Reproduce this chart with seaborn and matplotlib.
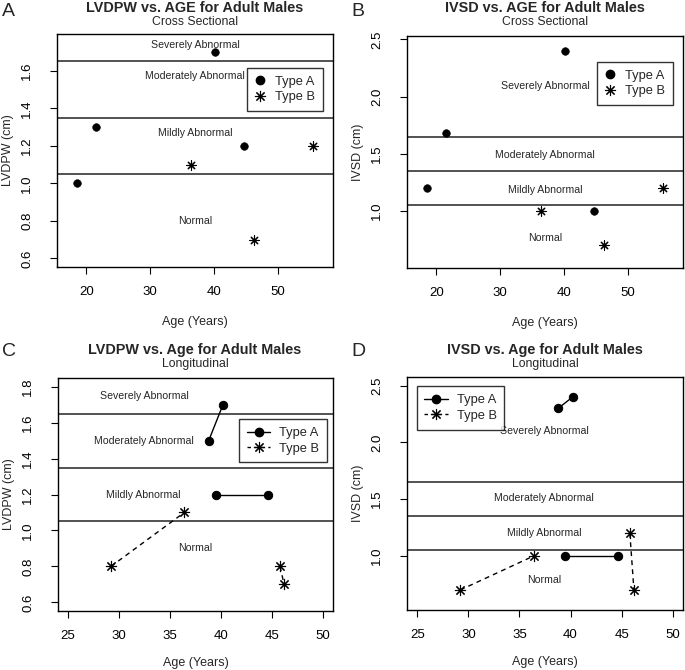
import matplotlib
matplotlib.use("Agg")
import matplotlib.pyplot as plt
from matplotlib.lines import Line2D
import seaborn as sns

sns.set_style("white")
plt.rcParams['font.family'] = ['Liberation Sans', 'DejaVu Sans']

# umbrales entre regiones (cm)
thresholds = [1.05, 1.35, 1.65]
region_names = ["Normal", "Mildly Abnormal", "Moderately Abnormal", "Severely Abnormal"]

# --- A: LVDPW transversal
a_age_A = [18.6, 21.5, 40.2, 44.6]
a_val_A = [1.0, 1.3, 1.7, 1.2]
a_age_B = [36.4, 46.2, 55.5]
a_val_B = [1.1, 0.7, 1.2]

# --- B: IVSD transversal
b_age_A = [18.6, 21.5, 40.2, 44.6]
b_val_A = [1.2, 1.68, 2.4, 1.0]
b_age_B = [36.4, 46.2, 55.5]
b_val_B = [1.0, 0.7, 1.2]

# --- C: LVDPW longitudinal (pares de visitas)
c_age_A = [[38.8, 40.2], [39.5, 44.6]]
c_val_A = [[1.5, 1.7], [1.2, 1.2]]
c_age_B = [[29.2, 36.4], [45.8, 46.2]]
c_val_B = [[0.8, 1.1], [0.8, 0.7]]

# --- D: IVSD longitudinal
d_age_A = [[38.8, 40.2], [39.5, 44.6]]
d_val_A = [[2.3, 2.4], [1.0, 1.0]]
d_age_B = [[29.2, 36.4], [45.8, 46.2]]
d_val_B = [[0.7, 1.0], [1.2, 0.7]]

# posiciones de las etiquetas de región (x, y) en orden Normal..Severely
a_label_pos = [(37, 0.80), (37, 1.27), (37, 1.57), (37, 1.735)]
b_label_pos = [(37, 0.76), (37, 1.18), (37, 1.49), (37, 2.09)]
c_label_pos = [(37.5, 0.90), (32.4, 1.20), (32.4, 1.50), (32.5, 1.75)]
d_label_pos = [(37.4, 0.79), (37.4, 1.20), (37.4, 1.51), (37.4, 2.10)]

W, H = 685, 670
ASTER = (8, 2, 0)
DASH = (0, (3.5, 3))


def px_rect(x0, x1, y0, y1):
    return [x0 / W, 1 - y1 / H, (x1 - x0) / W, (y1 - y0) / H]


def style_axes(ax, xlim, ylim, xticks, yticks, ylabel, h_px, xlab_off=49):
    ax.set_xlim(*xlim)
    ax.set_ylim(*ylim)
    ax.set_xticks(xticks)
    ax.set_yticks(yticks)
    ax.set_xticklabels([f"{t:g}" for t in xticks])
    ax.set_yticklabels([f"{t:.1f}" for t in yticks], rotation=90, va='center')
    ax.tick_params(axis='both', direction='out', length=5, width=0.8,
                   labelsize=9.5, bottom=True, left=True, colors='black')
    ax.tick_params(axis='x', pad=9)
    ax.tick_params(axis='y', pad=12)
    ax.set_xlabel("Age (Years)", fontsize=9)
    ax.set_ylabel(ylabel, fontsize=9)
    ax.xaxis.set_label_coords(0.5, -xlab_off / h_px)
    ax.yaxis.set_label_coords(-0.155, 0.5)
    for s in ax.spines.values():
        s.set_color('black')
        s.set_linewidth(1.0)
    for t in thresholds:
        ax.axhline(t, color='#444444', lw=1.3, zorder=1)


def region_labels(ax, pos):
    for name, (x, y) in zip(region_names, pos):
        ax.text(x, y, name, ha='center', va='center', fontsize=7.6)


def cross_panel(ax, age_A, val_A, age_B, val_B):
    sns.scatterplot(x=age_A, y=val_A, marker='o', color='black', s=30,
                    edgecolor='black', ax=ax, zorder=3)
    sns.scatterplot(x=age_B, y=val_B, marker=ASTER, color='black', s=45,
                    linewidth=0.8, ax=ax, zorder=3)


def long_panel(ax, age_A, val_A, age_B, val_B):
    for xs, ys in zip(age_A, val_A):
        sns.lineplot(x=xs, y=ys, color='black', lw=1.0, marker='o', markersize=6,
                     markeredgecolor='black', ax=ax, zorder=3, sort=False)
    for xs, ys in zip(age_B, val_B):
        sns.lineplot(x=xs, y=ys, color='black', lw=1.0, linestyle=DASH,
                     marker=ASTER, markersize=8, markeredgewidth=0.8,
                     markeredgecolor='black', ax=ax, zorder=3, sort=False)


def add_legend(ax, lines, loc, anchor):
    if lines:
        h = [Line2D([], [], color='black', marker='o', markersize=6, lw=1.0),
             Line2D([], [], color='black', marker=ASTER, markersize=8, lw=1.0,
                    mew=0.8, linestyle=(0, (2.5, 2.5)))]
        hl, htp = 1.8, 0.7
    else:
        h = [Line2D([], [], color='black', marker='o', markersize=6, lw=0),
             Line2D([], [], color='black', marker=ASTER, markersize=8, lw=0, mew=0.8)]
        hl, htp = 0.8, 0.8
    leg = ax.legend(h, ["Type A", "Type B"], loc=loc, bbox_to_anchor=anchor,
                    fontsize=9.3, frameon=True, fancybox=False, handlelength=hl,
                    borderpad=0.6, labelspacing=0.28, handletextpad=htp,
                    borderaxespad=0)
    leg.get_frame().set_edgecolor('black')
    leg.get_frame().set_linewidth(1.0)


def titles(fig, xc, y_title, y_sub, title, sub):
    fig.text(xc / W, 1 - y_title / H, title, ha='center', va='center',
             fontsize=10.4, fontweight='bold')
    fig.text(xc / W, 1 - y_sub / H, sub, ha='center', va='center', fontsize=8.8)


fig = plt.figure(figsize=(6.85, 6.7), dpi=100)

axA = fig.add_axes(px_rect(57, 333, 34, 267))
axB = fig.add_axes(px_rect(407, 683, 36, 268))
axC = fig.add_axes(px_rect(58, 333, 378, 611))
axD = fig.add_axes(px_rect(407, 683, 377, 610))

cross_panel(axA, a_age_A, a_val_A, a_age_B, a_val_B)
style_axes(axA, (15.4, 58.6), (0.554, 1.796), [20, 30, 40, 50],
           [0.6, 0.8, 1.0, 1.2, 1.4, 1.6], "LVDPW (cm)", 233)
region_labels(axA, a_label_pos)
add_legend(axA, False, 'upper right', (0.964, 0.854))

cross_panel(axB, b_age_A, b_val_A, b_age_B, b_val_B)
style_axes(axB, (15.4, 58.6), (0.50, 2.53), [20, 30, 40, 50],
           [1.0, 1.5, 2.0, 2.5], "IVSD (cm)", 232)
region_labels(axB, b_label_pos)
add_legend(axB, False, 'upper right', (0.964, 0.888))

long_panel(axC, c_age_A, c_val_A, c_age_B, c_val_B)
style_axes(axC, (24.0, 51.0), (0.552, 1.848), [25, 30, 35, 40, 45, 50],
           [0.6, 0.8, 1.0, 1.2, 1.4, 1.6, 1.8], "LVDPW (cm)", 233, 46)
region_labels(axC, c_label_pos)
add_legend(axC, True, 'upper right', (0.978, 0.823))

long_panel(axD, d_age_A, d_val_A, d_age_B, d_val_B)
style_axes(axD, (24.0, 51.0), (0.524, 2.576), [25, 30, 35, 40, 45, 50],
           [1.0, 1.5, 2.0, 2.5], "IVSD (cm)", 233, 46)
region_labels(axD, d_label_pos)
add_legend(axD, True, 'upper left', (0.035, 0.96))

titles(fig, 195, 8, 22, "LVDPW vs. AGE for Adult Males", "Cross Sectional")
titles(fig, 545, 8, 22, "IVSD vs. AGE for Adult Males", "Cross Sectional")
titles(fig, 195, 350, 364, "LVDPW vs. Age for Adult Males", "Longitudinal")
titles(fig, 545, 350, 364, "IVSD vs. Age for Adult Males", "Longitudinal")

for letter, x, y in [("A", 2, 12), ("B", 351, 12), ("C", 2, 352), ("D", 351, 352)]:
    fig.text(x / W, 1 - y / H, letter, ha='left', va='center', fontsize=14)

fig.savefig("out.png", dpi=100)
